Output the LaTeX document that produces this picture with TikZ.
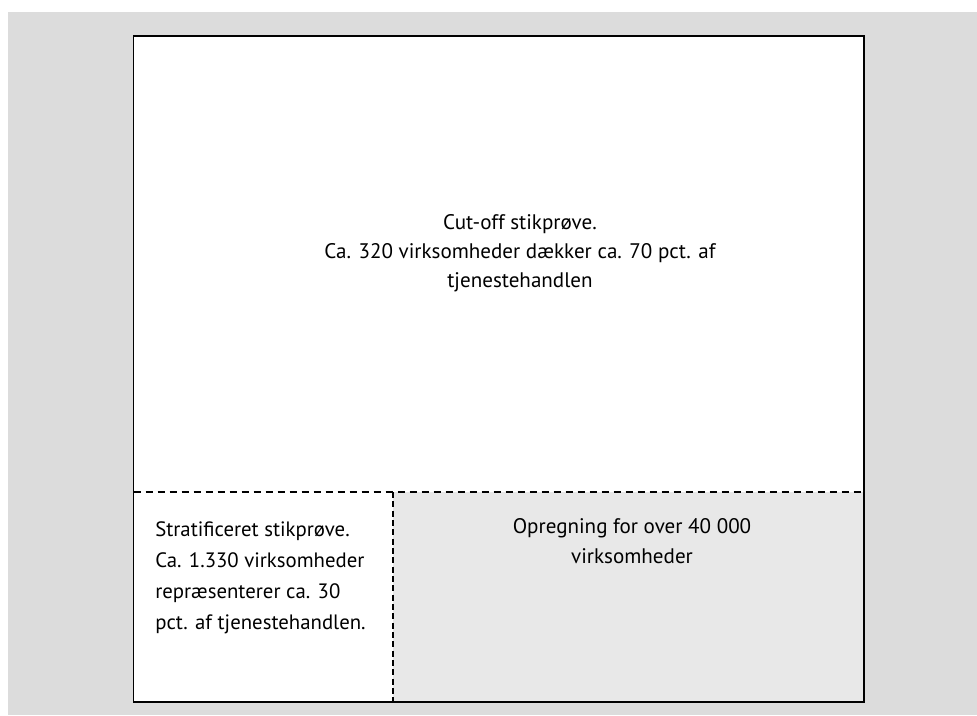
\documentclass[tikz,border=0pt]{standalone}
\usepackage{fontspec}
\setmainfont{PT Sans}
\definecolor{bggray}{HTML}{DCDCDC}
\definecolor{cellgray}{HTML}{E8E8E8}
\begin{document}
\begin{tikzpicture}[x=0.75pt,y=-0.75pt,
  lbl/.style={inner sep=0pt,text=black},
  frame/.style={draw=black,line width=1.3pt},
  hdash/.style={draw=black,line width=2.2pt,dash pattern=on 5.5pt off 3.5pt},
  vdash/.style={draw=black,line width=2.2pt,dash pattern=on 4.5pt off 2.5pt}]
\useasboundingbox (0,0) rectangle (977,715);
\fill[bggray] (8,12) rectangle (977,715);
\coordinate (tl) at (133.5,36);
\coordinate (br) at (864,702);
\coordinate (ml) at (133.5,492);
\coordinate (mr) at (864,492);
\coordinate (mm) at (393,492);
\coordinate (mb) at (393,702);
\fill[white] (tl) rectangle (br);
\fill[cellgray] (mm) rectangle (br);
\draw[frame] (tl) rectangle (br);
\draw[hdash] (ml) -- (mr);
\draw[vdash] (mm) -- (mb);
\node[lbl,align=center,anchor=base,font=\fontsize{15.8}{21.75}\selectfont] (top) at (520,287)
  {Cut-off stikprøve.\\Ca. 320 virksomheder dækker ca. 70 pct. af\\tjenestehandlen};
\node[lbl,align=left,anchor=base west,font=\fontsize{15.6}{23.25}\selectfont] (left) at (155,629)
  {Stratificeret stikprøve.\\Ca. 1.330 virksomheder\\repræsenterer ca. 30\\pct. af tjenestehandlen.};
\node[lbl,align=center,anchor=base,font=\fontsize{15.8}{22.5}\selectfont] (right) at (632,563)
  {Opregning for over 40 000\\virksomheder};
\end{tikzpicture}
\end{document}
